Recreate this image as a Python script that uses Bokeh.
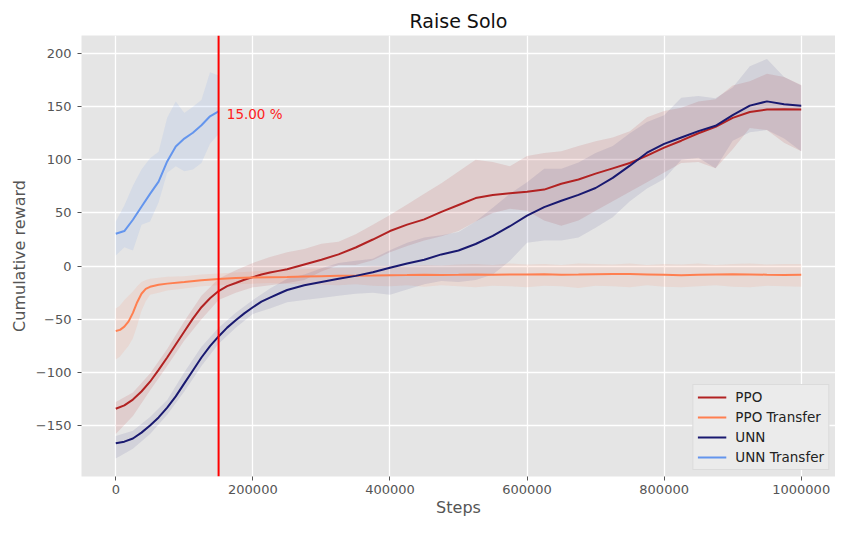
from bokeh.plotting import figure
from bokeh.models import Range1d, Span, Label, FixedTicker
from bokeh.embed import file_html
from bokeh.resources import INLINE

# ---------------- data ----------------
# mean curves: 12,500-step resolution up to 237,500, then every 25,000
line_steps = [i * 12500 for i in range(20)] + [250000 + i * 25000 for i in range(31)]

ppo_mean = [-134.2, -131.1, -125.6, -118, -108.8, -97.6, -86, -73.8, -61.6, -49.4,
            -38.7, -30.2, -23.5, -18.9, -15.9, -12.8, -10.4, -7.9, -6, -4.5,
            -3, 1.5, 6, 11, 17.5, 25, 33, 39, 44, 51,
            57.5, 64, 67, 68.5, 70, 72, 77.5, 81.5, 87, 92,
            97, 104, 111.5, 118, 125, 131, 139.5, 145, 147.3, 147.6, 147.3]
unn_mean = [-166.8, -165.2, -162.2, -156.7, -150, -142.4, -133.2, -122.6, -110.4, -98.2,
            -86, -75.3, -66.2, -57.9, -51, -44.5, -38.7, -33.5, -29.6, -26,
            -22.5, -18, -15, -12, -9.2, -5.8, -1.5, 2.5, 6, 11,
            14.7, 20.8, 28.4, 37.5, 47.5, 55.5, 61.5, 67, 73.5, 83,
            94.5, 106.7, 115, 121, 127, 132, 142, 151, 155, 152.4, 150.9]

# bands: every 25,000 steps
band_steps = [i * 25000 for i in range(41)]
ppo_upper = [-128, -119, -101, -78, -52, -28, -12, -4, 3, 8.5,
             13, 16, 21, 23, 30, 39, 48, 58, 68, 78,
             89, 100, 98, 94, 103.5, 106.5, 108, 113, 117.5, 121,
             127, 140, 146, 149, 155, 157, 170, 174, 181, 178, 170.5]
ppo_lower = [-158, -141, -117, -94, -70, -50, -32, -25, -20, -18,
             -16, -13, -5, 1, 1, 5.5, 13, 19, 24, 28,
             33, 42, 50, 54, 52, 43, 38, 43, 52, 61,
             70, 79, 88, 97, 98, 92, 110, 130, 128, 116, 108]
unn_upper = [-160, -155, -142, -126, -100, -76, -58, -44, -32, -21,
             -12, -8, -2, 3, 5, 7, 15, 22, 27, 29,
             32, 42, 55, 68, 79, 91.5, 91.5, 97.5, 106.5, 113,
             125, 135.5, 142, 158.5, 160, 158, 168, 188, 195, 178, 170]
unn_lower = [-181, -172, -158, -140, -118, -94, -73, -58, -45, -40,
             -34, -32, -30, -28, -26, -25, -27, -22, -17, -14,
             -15, -13, -8, 5, 22, 24, 24, 27, 36, 46,
             61, 73, 82, 100, 102, 92, 118, 126, 128, 120, 108]

ppo_tr_steps = [i * 6250 for i in range(8)] + [50000, 62500] + [75000 + i * 25000 for i in range(38)]
ppo_tr_mean = [-61, -60, -57, -52, -44, -34, -26, -21.5, -19.5, -17.5,
               -16.5, -15, -13.4, -12.2, -11.3,
               -10.7, -10.4, -10.2, -9.8, -9.5, -9.2, -9.0, -8.8, -8.5, -8.4,
               -8.2, -8.3, -8.2, -8.0, -8.2, -8.0, -7.8, -7.6, -8.2, -8.0,
               -7.6, -7.4, -7.5, -7.8, -8.2, -8.6, -8.2, -7.9, -7.6, -7.8,
               -8.1, -8.3, -8.2]
ppo_tr_upper = [-40, -37, -32, -28, -24, -19, -15, -13, -12, -11,
                -10, -9.5, -8, -7, -6,
                -5, -4.5, -4, -3, -2, -1.5, -1, 0, 0.5, 0,
                1, 0.5, 1.5, 2, 1, 2.5, 1.5, 2, 1, 2.5,
                2, 1.5, 2.5, 1, 2, 1.5, 2.5, 1, 2, 2.5,
                1.5, 2, 2]
ppo_tr_lower = [-88, -85, -80, -75, -68, -56, -42, -33, -27, -25,
                -23, -21, -19, -18, -17,
                -16.5, -16, -16.5, -17, -17.5, -18, -17, -18.5, -19, -18,
                -19.5, -18, -19, -20, -18.5, -19, -20, -18.5, -19, -20.5,
                -18.5, -19, -20, -18, -19.5, -20, -19, -18, -19.5, -20,
                -18.5, -19, -19.5]

unn_tr_steps = [i * 12500 for i in range(13)]  # 0 .. 150,000
unn_tr_mean = [30.5, 33, 43.6, 55.8, 68, 79.5, 98.5, 112.5, 120, 125.5, 132.5, 141, 145.7]
unn_tr_upper = [42, 57, 75.6, 90.8, 101.5, 107.6, 139.6, 155, 144, 150, 156.4, 182.3, 179.3]
unn_tr_lower = [10, 17.7, 14.6, 39, 42, 60, 87.8, 94, 89.3, 90.8, 96.9, 115.2, 124.3]

threshold_step = 150000
threshold_text = "15.00 %"
threshold_text_y = 143

x_ticks = [0, 200000, 400000, 600000, 800000, 1000000]
x_tick_labels = ["0", "200000", "400000", "600000", "800000", "1000000"]
y_ticks = [-150, -100, -50, 0, 50, 100, 150, 200]
y_tick_labels = ["\u2212150", "\u2212100", "\u221250", "0", "50", "100", "150", "200"]

title = "Raise Solo"
x_label = "Steps"
y_label = "Cumulative reward"

# ---------------- styling ----------------
C_PPO = "#B22222"
C_PPO_TR = "#FF7F50"
C_UNN = "#191970"
C_UNN_TR = "#6495ED"
FONT = "DejaVu Sans"

p = figure(width=835, height=519, output_backend="svg", toolbar_location=None,
           x_range=Range1d(-50000, 1050000), y_range=Range1d(-198, 217),
           min_border_left=81, min_border_right=0, min_border_top=35, min_border_bottom=41,
           background_fill_color="#E5E5E5", border_fill_color="white",
           outline_line_color=None, title=title)

p.title.text_font = FONT
p.title.text_font_size = "19px"
p.title.text_font_style = "normal"
p.title.text_color = "#111111"
p.title.align = "center"
p.title.standoff = 8

# bands
p.varea(x=band_steps, y1=ppo_lower, y2=ppo_upper, fill_color=C_PPO, fill_alpha=0.12)
p.varea(x=ppo_tr_steps, y1=ppo_tr_lower, y2=ppo_tr_upper, fill_color=C_PPO_TR, fill_alpha=0.12)
p.varea(x=band_steps, y1=unn_lower, y2=unn_upper, fill_color=C_UNN, fill_alpha=0.09)
p.varea(x=unn_tr_steps, y1=unn_tr_lower, y2=unn_tr_upper, fill_color=C_UNN_TR, fill_alpha=0.12)

# lines
p.line(line_steps, ppo_mean, line_color=C_PPO, line_width=2, legend_label="PPO")
p.line(ppo_tr_steps, ppo_tr_mean, line_color=C_PPO_TR, line_width=2, legend_label="PPO Transfer")
p.line(line_steps, unn_mean, line_color=C_UNN, line_width=2, legend_label="UNN")
p.line(unn_tr_steps, unn_tr_mean, line_color=C_UNN_TR, line_width=2, legend_label="UNN Transfer")

# threshold line & label
p.add_layout(Span(location=threshold_step, dimension="height", line_color="#FF0000", line_width=2))
p.add_layout(Label(x=threshold_step + 12000, y=threshold_text_y, text=threshold_text,
                   text_color="#FF2020", text_font=FONT, text_font_size="13.5px",
                   text_baseline="middle", text_align="left"))

# grid
for g in (p.xgrid, p.ygrid):
    g.grid_line_color = "white"
    g.grid_line_width = 1.3

# axes
p.xaxis.ticker = FixedTicker(ticks=x_ticks)
p.xaxis.major_label_overrides = dict(zip(x_ticks, x_tick_labels))
p.yaxis.ticker = FixedTicker(ticks=y_ticks)
p.yaxis.major_label_overrides = dict(zip(y_ticks, y_tick_labels))
p.xaxis.axis_label = x_label
p.yaxis.axis_label = y_label
for ax in (p.xaxis, p.yaxis):
    ax.axis_line_color = None
    ax.major_tick_line_color = "#555555"
    ax.major_tick_out = 4
    ax.major_tick_in = 0
    ax.minor_tick_line_color = None
    ax.major_label_text_font = FONT
    ax.major_label_text_font_size = "13px"
    ax.major_label_text_color = "#555555"
    ax.axis_label_text_font = FONT
    ax.axis_label_text_font_size = "16px"
    ax.axis_label_text_font_style = "normal"
    ax.axis_label_text_color = "#555555"
p.xaxis.major_label_standoff = 4
p.xaxis.axis_label_standoff = 1
p.yaxis.major_label_standoff = 6
p.yaxis.axis_label_standoff = 4

# legend
lg = p.legend[0]
lg.location = "bottom_right"
lg.margin = 6
lg.padding = 4
lg.spacing = 4
lg.glyph_width = 29
lg.glyph_height = 16
lg.label_height = 16
lg.label_standoff = 9
lg.label_text_font = FONT
lg.label_text_font_size = "13.5px"
lg.label_text_color = "#222222"
lg.background_fill_color = "#EBEBEB"
lg.background_fill_alpha = 1.0
lg.border_line_color = "#CCCCCC"
lg.border_line_width = 1

open("out.html", "w").write(file_html(p, INLINE))
